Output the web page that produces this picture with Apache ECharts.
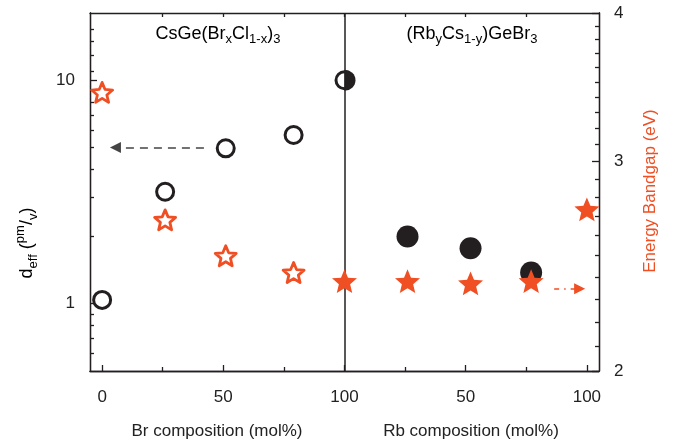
<!DOCTYPE html>
<html>
<head>
<meta charset="utf-8">
<script src="https://cdn.jsdelivr.net/npm/echarts@6/dist/echarts.min.js"></script>
<style>
html,body{margin:0;padding:0;background:#fff;}
#c{width:677px;height:446px;}
</style>
</head>
<body>
<div id="c"></div>
<script>
// ---- data ----
const brComp = [0, 26, 51, 79, 100];          // Br composition (mol%)
const brDeff = [1.04, 3.17, 4.96, 5.69, 10.0]; // d_eff (pm/V), open circles
const brStarComp = [0, 26, 51, 79];
const brGap = [3.43, 2.68, 2.50, 2.42];       // bandgap (eV), open stars

const rbComp = [0, 26, 52, 77, 100];          // Rb composition (mol%)
const rbDeff = [10.0, 2.0, 1.77, 1.38];       // d_eff, filled circles (Rb 0..77)
const rbGap = [2.38, 2.38, 2.37, 2.38, 2.735];// bandgap, filled stars

const xTicks = [0, 50, 100, 150, 200];
const xMinorTicks = [25, 75, 125, 175];
const leftTicks = [1, 10];
const leftMinor = [0.6, 0.7, 0.8, 0.9, 2, 3, 4, 5, 6, 7, 8, 9, 11, 13, 15, 17];
const rightTicks = [2, 3, 4];
const rightMinor = [2.1, 2.2, 2.3, 2.4, 2.5, 2.6, 2.7, 2.8, 2.9, 3.1, 3.2, 3.3, 3.4, 3.5, 3.6, 3.7, 3.8, 3.9];

const blackArrow = [[42, 5], [5.5, 5]];
const orangeArrow = [[186.5, 2.345], [197, 2.345]];

// ---- styling ----
const FONT = "'Liberation Sans', Arial, sans-serif";
const BLACK = '#231f20';
const ORANGE = '#f04e23';
const STAR = 'path://M50 0 L63.23 31.8 L97.55 34.55 L71.4 56.95 L79.39 90.45 L50 72.5 L20.61 90.45 L28.6 56.95 L2.45 34.55 L36.77 31.8 Z';
const HALF = 'path://M0 0 A50 50 0 0 1 0 100 Z';

const brX = brComp;
const rbX = rbComp.map(v => 100 + v);

const chart = echarts.init(document.getElementById('c'), null, {renderer: 'canvas'});

const lineStyle = {color: BLACK, width: 1.3};
function xAx(pos, ticks, len, labels) {
  return {
    type: 'value', min: -5, max: 205, position: pos,
    axisLine: {show: true, onZero: false, lineStyle},
    axisTick: {show: true, inside: true, length: len, customValues: ticks, lineStyle},
    axisLabel: labels ? {show: true, customValues: ticks, formatter: v => String(v > 100 ? v - 100 : v),
      fontFamily: FONT, fontSize: 17, color: '#222', margin: 18} : {show: false},
    splitLine: {show: false}
  };
}
function yAx(pos, min, max, ticks, len, labels) {
  return {
    type: 'log', logBase: 10, min, max, position: pos,
    axisLine: {show: true, onZero: false, lineStyle},
    axisTick: {show: true, inside: true, length: len, customValues: ticks, lineStyle},
    axisLabel: labels ? {show: true, customValues: ticks, formatter: v => String(Math.round(v)),
      fontFamily: FONT, fontSize: 17, color: '#222', margin: 15} : {show: false},
    splitLine: {show: false}, minorTick: {show: false}
  };
}

const option = {
  animation: false,
  backgroundColor: '#fff',
  grid: {left: 90, right: 78, top: 13, bottom: 75, containLabel: false},
  xAxis: [
    xAx('bottom', xTicks, 6, true),
    xAx('bottom', xMinorTicks, 4, false),
    xAx('top', [25, 50, 75, 100, 125, 150, 175], 4, false)
  ],
  yAxis: [
    yAx('left', 0.5, 20, leftTicks, 7, true),
    yAx('left', 0.5, 20, leftMinor, 4, false),
    yAx('right', 2, 4, rightTicks, 7, true),
    yAx('right', 2, 4, rightMinor, 4, false)
  ],
  series: [
    {
      type: 'scatter', xAxisIndex: 0, yAxisIndex: 0, z: 2,
      data: brX.map((x, i) => [x, brDeff[i]]),
      symbol: 'circle', symbolSize: 17,
      itemStyle: {color: '#fff', borderColor: BLACK, borderWidth: 3, opacity: 1},
      markLine: {
        silent: true, animation: false,
        label: {show: false},
        data: [
          [{coord: blackArrow[0], symbol: 'none'}, {coord: blackArrow[1], symbol: 'triangle'}],
          [{xAxis: 100, yAxis: 0.5, symbol: 'none'}, {xAxis: 100, yAxis: 20, symbol: 'none',
            lineStyle: {type: 'solid', color: BLACK, width: 1.5}}]
        ],
        lineStyle: {type: [8, 6], color: '#444', width: 1.5},
        symbolSize: 11
      }
    },
    {
      type: 'scatter', xAxisIndex: 0, yAxisIndex: 0, z: 3,
      data: rbX.slice(1, 4).map((x, i) => [x, rbDeff[i + 1]]),
      symbol: 'circle', symbolSize: 22,
      itemStyle: {color: BLACK, opacity: 1}
    },
    {
      type: 'scatter', xAxisIndex: 0, yAxisIndex: 0, z: 3,
      data: [[rbX[0], rbDeff[0]]],
      symbol: HALF, symbolSize: [11, 21], symbolOffset: [5.5, 0], symbolKeepAspect: false,
      itemStyle: {color: BLACK, opacity: 1}
    },
    {
      type: 'scatter', xAxisIndex: 0, yAxisIndex: 2, z: 4,
      data: brStarComp.map((x, i) => [x, brGap[i]]),
      symbol: STAR, symbolSize: 21, symbolKeepAspect: true,
      itemStyle: {color: '#fff', borderColor: ORANGE, borderWidth: 2.8, borderJoin: 'round', opacity: 1}
    },
    {
      type: 'scatter', xAxisIndex: 0, yAxisIndex: 2, z: 5,
      data: rbX.map((x, i) => [x, rbGap[i]]),
      symbol: STAR, symbolSize: 25, symbolKeepAspect: true,
      itemStyle: {color: ORANGE, opacity: 1},
      markLine: {
        silent: true, animation: false, label: {show: false},
        data: [[{coord: orangeArrow[0], symbol: 'none'}, {coord: orangeArrow[1], symbol: 'triangle'}]],
        lineStyle: {type: [5, 5, 1.5, 5], color: ORANGE, width: 1.5},
        symbolSize: 11
      }
    }
  ],
  graphic: [
    {
      type: 'text', x: 218, y: 34, z: 10,
      style: {
        text: '{n|CsGe(Br}{s|x}{n|Cl}{s|1-x}{n|)}{s|3}',
        align: 'center', verticalAlign: 'middle',
        rich: {
          n: {fontFamily: FONT, fontSize: 18, color: '#222', lineHeight: 24},
          s: {fontFamily: FONT, fontSize: 13, color: '#222', lineHeight: 12, verticalAlign: 'bottom'}
        }
      }
    },
    {
      type: 'text', x: 472, y: 34, z: 10,
      style: {
        text: '{n|(Rb}{s|y}{n|Cs}{s|1-y}{n|)GeBr}{s|3}',
        align: 'center', verticalAlign: 'middle',
        rich: {
          n: {fontFamily: FONT, fontSize: 18, color: '#222', lineHeight: 24},
          s: {fontFamily: FONT, fontSize: 13, color: '#222', lineHeight: 12, verticalAlign: 'bottom'}
        }
      }
    },
    {
      type: 'text', x: 217, y: 431, z: 10,
      style: {text: 'Br composition (mol%)', align: 'center', verticalAlign: 'middle',
        fontFamily: FONT, fontSize: 17, fill: '#222'}
    },
    {
      type: 'text', x: 471, y: 431, z: 10,
      style: {text: 'Rb composition (mol%)', align: 'center', verticalAlign: 'middle',
        fontFamily: FONT, fontSize: 17, fill: '#222'}
    },
    {
      type: 'text', x: 650, y: 191, z: 10, rotation: Math.PI / 2,
      style: {text: 'Energy Bandgap (eV)', align: 'center', verticalAlign: 'middle',
        fontFamily: FONT, fontSize: 17, fill: ORANGE}
    },
    {
      type: 'text', x: 27, y: 243, z: 10, rotation: Math.PI / 2,
      style: {
        text: '{n|d}{s|eff}{n| (}{p|pm}{n|/}{s|v}{n|)}',
        align: 'center', verticalAlign: 'middle',
        rich: {
          n: {fontFamily: FONT, fontSize: 18, color: '#222', lineHeight: 26},
          s: {fontFamily: FONT, fontSize: 13, color: '#222', lineHeight: 12, verticalAlign: 'bottom'},
          p: {fontFamily: FONT, fontSize: 13, color: '#222', lineHeight: 12, verticalAlign: 'top'}
        }
      }
    }
  ]
};
chart.setOption(option);
</script>
</body>
</html>
